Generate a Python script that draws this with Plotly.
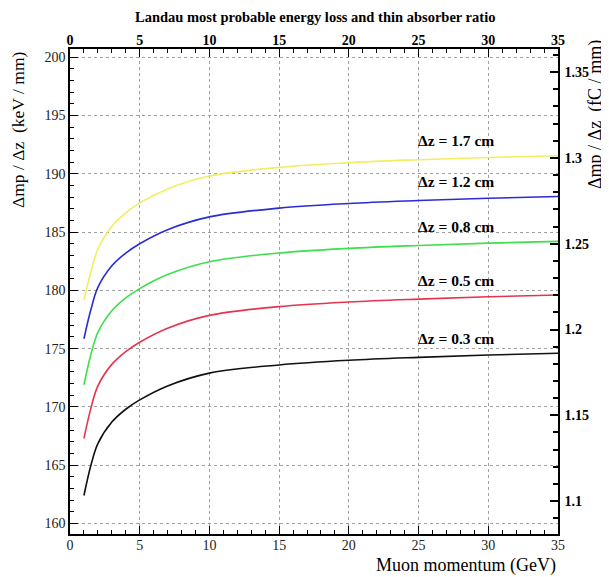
import plotly.graph_objects as go

# ---- data ----
momentum = [1, 1.5, 2, 3, 4, 5, 7, 10, 15, 20, 25, 30, 35]
labels = ["Δz = 0.3 cm", "Δz = 0.5 cm", "Δz = 0.8 cm", "Δz = 1.2 cm", "Δz = 1.7 cm"]
mpv_03 = [162.4, 165.0, 166.85, 168.7, 169.8, 170.6, 171.8, 172.9, 173.6, 174.0, 174.25, 174.45, 174.6]
mpv_05 = [167.3, 169.9, 171.8, 173.65, 174.75, 175.55, 176.75, 177.85, 178.6, 179.0, 179.25, 179.45, 179.6]
mpv_08 = [171.9, 174.5, 176.4, 178.25, 179.35, 180.15, 181.35, 182.45, 183.2, 183.6, 183.85, 184.05, 184.2]
mpv_12 = [175.85, 178.35, 180.25, 182.1, 183.2, 184.0, 185.2, 186.3, 187.05, 187.45, 187.7, 187.9, 188.05]
mpv_17 = [179.2, 181.6, 183.55, 185.5, 186.65, 187.5, 188.7, 189.8, 190.55, 190.95, 191.2, 191.4, 191.55]
series = [mpv_03, mpv_05, mpv_08, mpv_12, mpv_17]
kev_per_fc = 147.2  # keV/mm per fC/mm (right-axis conversion)
x_ticks = [0, 5, 10, 15, 20, 25, 30, 35]
left_ticks = [160, 165, 170, 175, 180, 185, 190, 195, 200]
right_ticks = [1.1, 1.15, 1.2, 1.25, 1.3, 1.35]
right_ticktext = ["1.1", "1.15", "1.2", "1.25", "1.3", "1.35"]

# ---- styles / layout ----
colors = ["#111111", "#e5344e", "#3ede4c", "#2c2cd4", "#f2ee62"]
FONT = "Liberation Serif"
OFF = 8                      # page body margin of the browser
W, H = 609, 577              # window size
L, R, T, B = 70, 558, 48.5, 534   # frame position in window pixels
xr = [0, 35]
yr = [159.1, 200.7]
label_x = 24.85
label_index = momentum.index(25)

fig = go.Figure()
for vals, col in zip(series, colors):
    fig.add_trace(go.Scatter(x=momentum, y=vals, mode="lines",
                             line=dict(color=col, width=1.6, shape="spline", smoothing=1.0),
                             showlegend=False, hoverinfo="skip"))
# same data in fC/mm on the secondary axes (invisible, keeps them drawn)
fig.add_trace(go.Scatter(x=momentum, y=[v / kev_per_fc for v in mpv_17], mode="lines",
                         xaxis="x2", yaxis="y2", line=dict(color="rgba(0,0,0,0)", width=0),
                         showlegend=False, hoverinfo="skip"))

for lab, vals in zip(labels, series):
    fig.add_annotation(x=label_x, y=vals[label_index], xref="x", yref="y", text="<b>" + lab + "</b>",
                       showarrow=False, xanchor="left", yanchor="middle", yshift=19,
                       font=dict(family=FONT, size=15.5, color="black"))

def px_to_paper_x(px):
    return (px - L) / (R - L)

def px_to_paper_y(py):
    return (B - py) / (B - T)

fig.add_annotation(text="<b>Landau most probable energy loss and thin absorber ratio</b>",
                   xref="paper", yref="paper", x=px_to_paper_x(315), y=px_to_paper_y(16),
                   xanchor="center", yanchor="middle", showarrow=False,
                   font=dict(family=FONT, size=14.5, color="black"))
fig.add_annotation(text="Muon momentum (GeV)", xref="paper", yref="paper",
                   x=px_to_paper_x(558), y=px_to_paper_y(566), xanchor="right", yanchor="middle",
                   showarrow=False, font=dict(family=FONT, size=18, color="black"))
fig.add_annotation(text="Δmp / Δz  (keV / mm)", xref="paper", yref="paper", textangle=-90,
                   x=px_to_paper_x(18), y=px_to_paper_y(49), xanchor="center", yanchor="top",
                   showarrow=False, font=dict(family=FONT, size=17.5, color="black"))
fig.add_annotation(text="Δmp / Δz  (fC / mm)", xref="paper", yref="paper", textangle=-90,
                   x=px_to_paper_x(595), y=px_to_paper_y(38), xanchor="center", yanchor="top",
                   showarrow=False, font=dict(family=FONT, size=18, color="black"))

grid = dict(showgrid=True, gridcolor="#a0a0a0", gridwidth=1, griddash="dot")
axline = dict(showline=True, linecolor="black", linewidth=1.5, zeroline=False)

fig.update_layout(
    width=W - OFF, height=H - OFF, autosize=False,
    margin=dict(l=L - OFF, r=W - R, t=T - OFF, b=H - B, pad=0),
    paper_bgcolor="white", plot_bgcolor="white",
    xaxis=dict(range=xr, tickmode="array", tickvals=x_ticks, ticks="inside", ticklen=8,
               tickcolor="black", tickwidth=1.2,
               minor=dict(dtick=1, tick0=0, ticks="inside", ticklen=4, tickcolor="black", showgrid=False),
               tickfont=dict(family=FONT, size=14, color="#222"), ticklabelstandoff=-3,
               anchor="y", **grid, **axline),
    yaxis=dict(range=yr, tickmode="array", tickvals=left_ticks, ticks="inside", ticklen=8,
               tickcolor="black", tickwidth=1.2,
               minor=dict(dtick=1, tick0=160, ticks="inside", ticklen=4, tickcolor="black", showgrid=False),
               tickfont=dict(family=FONT, size=14, color="#222"), ticklabelstandoff=0,
               anchor="x", **grid, **axline),
    xaxis2=dict(range=xr, overlaying="x", side="top", anchor="y2", tickmode="array", tickvals=x_ticks,
                ticks="inside", ticklen=8, tickcolor="black", tickwidth=1.2,
                minor=dict(dtick=1, tick0=0, ticks="inside", ticklen=4, tickcolor="black"),
                tickfont=dict(family=FONT, size=14, color="black", weight="bold"),
                ticklabelstandoff=-3, showgrid=False, **axline),
    yaxis2=dict(range=[v / kev_per_fc for v in yr], overlaying="y", side="right", anchor="x2",
                tickmode="array", tickvals=right_ticks, ticktext=right_ticktext,
                ticks="inside", ticklen=8, tickcolor="black", tickwidth=1.5,
                minor=dict(dtick=0.01, tick0=1.0, ticks="inside", ticklen=5, tickcolor="black"),
                tickfont=dict(family=FONT, size=14, color="black", weight="bold"),
                ticklabelstandoff=2, showgrid=False, **axline),
)

fig.write_html("out.html")
